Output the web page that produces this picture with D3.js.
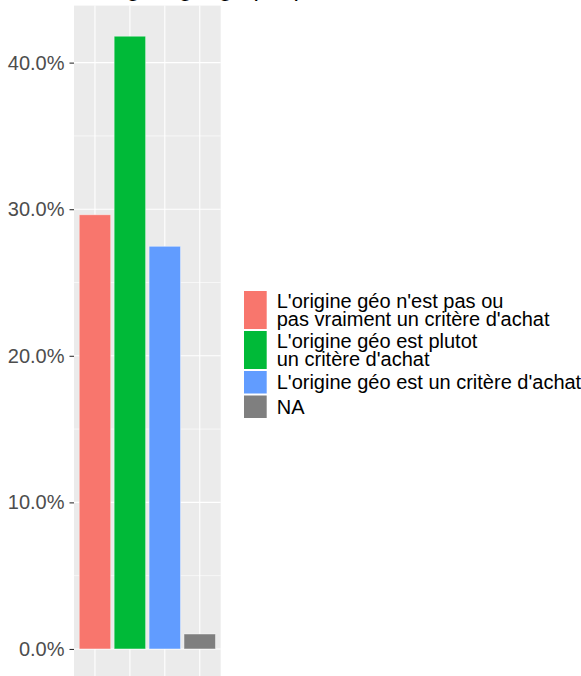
<!DOCTYPE html>
<html>
<head>
<meta charset="utf-8">
<script src="https://cdn.jsdelivr.net/npm/d3@7"></script>
<style>
	body { margin: 0; background: #fff; }
	text { font-family: "Liberation Sans", Arial, sans-serif; }
</style>
</head>
<body>
<svg id="chart" width="581" height="676"></svg>
<script>
// data
var categories = ["nopas", "plutot", "oui", "NA"];
var shares = [0.2962, 0.4180, 0.2747, 0.0102];
var colors = ["#F8766D", "#00BA38", "#619CFF", "#7F7F7F"];
var legendLabels = [
	["L'origine géo n'est pas ou", "pas vraiment un critère d'achat"],
	["L'origine géo est plutot", "un critère d'achat"],
	["L'origine géo est un critère d'achat"],
	["NA"]
];
var yTicks = [0, 0.1, 0.2, 0.3, 0.4];
var yMinorTicks = [0.05, 0.15, 0.25, 0.35];

var svg = d3.select("#chart");

var panel = {left: 74, right: 220.7, top: 5.6, bottom: 679.6};
var maxVal = d3.max(shares);

// ggplot-ish expansion of 5% on both ends
var y = d3.scaleLinear()
	.domain([-0.05 * maxVal, maxVal * 1.05])
	.range([panel.bottom, panel.top]);

var x = d3.scaleBand()
	.domain(categories)
	.range([panel.left, panel.right])
	.paddingInner(0.1)
	.paddingOuter(0.15);

// cropped title, only the descenders show at the top edge
svg.append("text")
	.attr("x", 82)
	.attr("y", -4)
	.attr("font-size", 24)
	.attr("fill", "#000")
	.text("L'origine géographique");

svg.append("rect")
	.attr("x", panel.left)
	.attr("y", panel.top)
	.attr("width", panel.right - panel.left)
	.attr("height", panel.bottom - panel.top)
	.attr("fill", "#EBEBEB");

var grid = svg.append("g").attr("class", "grid");

grid.selectAll("line.minor")
	.data(yMinorTicks)
	.enter().append("line")
	.attr("class", "minor")
	.attr("x1", panel.left).attr("x2", panel.right)
	.attr("y1", function(d) { return y(d); })
	.attr("y2", function(d) { return y(d); })
	.attr("stroke", "#fff")
	.attr("stroke-width", 0.6);

grid.selectAll("line.major")
	.data(yTicks)
	.enter().append("line")
	.attr("class", "major")
	.attr("x1", panel.left).attr("x2", panel.right)
	.attr("y1", function(d) { return y(d); })
	.attr("y2", function(d) { return y(d); })
	.attr("stroke", "#fff")
	.attr("stroke-width", 1.1);

grid.selectAll("line.vert")
	.data(categories)
	.enter().append("line")
	.attr("class", "vert")
	.attr("x1", function(d) { return x(d) + x.bandwidth() / 2; })
	.attr("x2", function(d) { return x(d) + x.bandwidth() / 2; })
	.attr("y1", panel.top).attr("y2", panel.bottom)
	.attr("stroke", "#fff")
	.attr("stroke-width", 1.1);

svg.append("g")
	.selectAll("rect")
	.data(shares)
	.enter().append("rect")
	.attr("x", function(d, i) { return x(categories[i]); })
	.attr("width", x.bandwidth())
	.attr("y", function(d) { return y(d); })
	.attr("height", function(d) { return y(0) - y(d); })
	.attr("fill", function(d, i) { return colors[i]; })
	.attr("stroke", "#fff")
	.attr("stroke-opacity", 0.5)
	.attr("stroke-width", 0.8);

// y axis, ggplot look: grey ticks, no domain line
var yAxis = d3.axisLeft(y)
	.tickValues(yTicks)
	.tickFormat(d3.format(".1%"))
	.tickSize(4.5)
	.tickPadding(5);

var yAxisG = svg.append("g")
	.attr("transform", "translate(" + panel.left + ",0)")
	.call(yAxis);
yAxisG.select(".domain").remove();
yAxisG.selectAll(".tick line").attr("stroke", "#333").attr("stroke-width", 1.1);
yAxisG.selectAll(".tick text")
	.attr("fill", "#4D4D4D")
	.attr("font-size", 20)
	.attr("font-family", "'Liberation Sans', Arial, sans-serif");

// legend
var legend = svg.append("g").attr("class", "legend");
var keyX = 244, keyW = 22.7, lineH = 18.5, fontSize = 20;
var keyY = 291;
for (var i = 0; i < legendLabels.length; i++) {
	var lines = legendLabels[i];
	var keyH = Math.max(22.5, lines.length * lineH + 1);
	legend.append("rect")
		.attr("x", keyX).attr("y", keyY)
		.attr("width", keyW).attr("height", keyH)
		.attr("fill", colors[i]);
	var cy = keyY + keyH / 2;
	var firstBase = cy - (lines.length - 1) * lineH / 2 + 0.36 * fontSize;
	var t = legend.append("text")
		.attr("x", 276.7)
		.attr("y", firstBase)
		.attr("font-size", fontSize)
		.attr("fill", "#000");
	for (var j = 0; j < lines.length; j++) {
		t.append("tspan")
			.attr("x", 276.7)
			.attr("dy", j === 0 ? 0 : lineH)
			.text(lines[j]);
	}
	keyY += keyH + 2;
}
</script>
</body>
</html>
